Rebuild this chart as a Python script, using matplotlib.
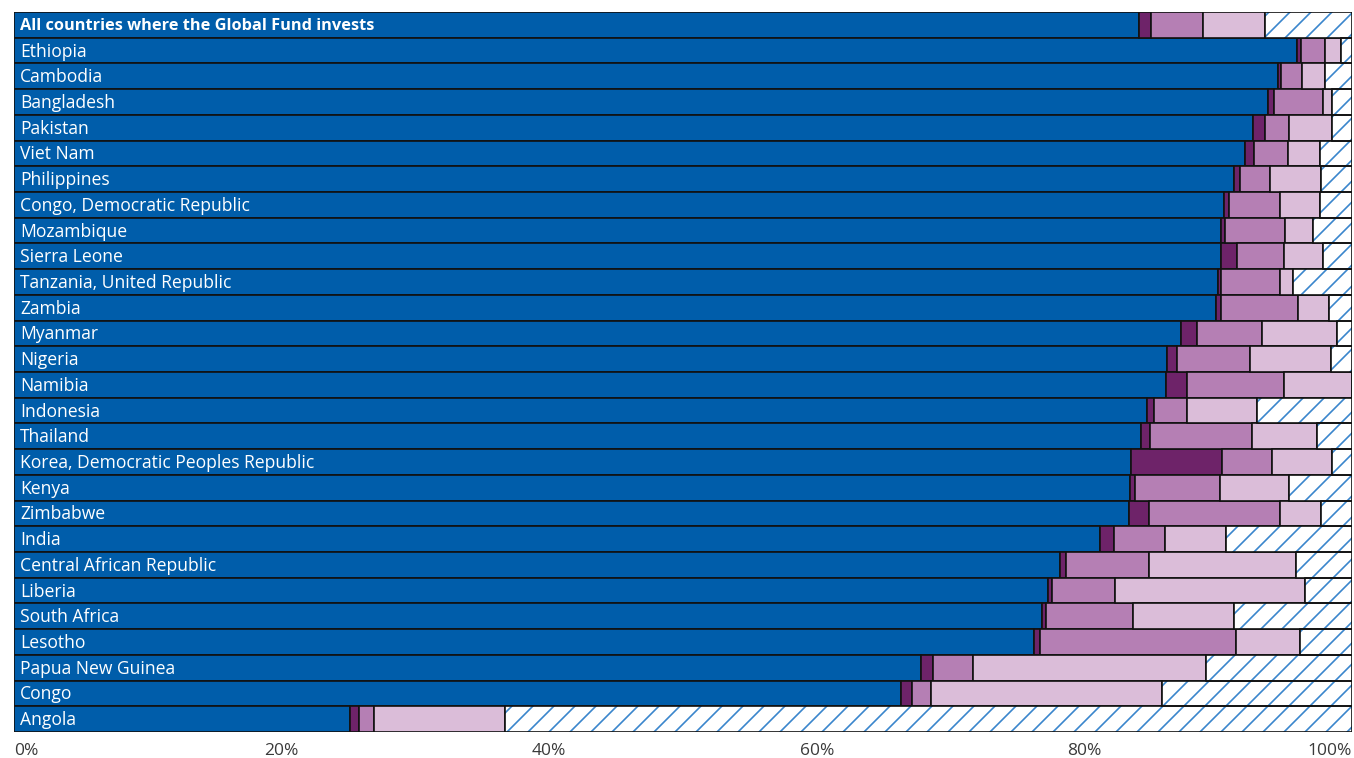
import matplotlib
matplotlib.use("Agg")
import matplotlib.pyplot as plt

countries = [
    "All countries where the Global Fund invests", "Ethiopia", "Cambodia", "Bangladesh",
    "Pakistan", "Viet Nam", "Philippines", "Congo, Democratic Republic", "Mozambique",
    "Sierra Leone", "Tanzania, United Republic", "Zambia", "Myanmar", "Nigeria", "Namibia",
    "Indonesia", "Thailand", "Korea, Democratic Peoples Republic", "Kenya", "Zimbabwe",
    "India", "Central African Republic", "Liberia", "South Africa", "Lesotho",
    "Papua New Guinea", "Congo", "Angola",
]
seg1 = [84.1, 95.9, 94.5, 93.7, 92.6, 92.0, 91.2, 90.4, 90.2, 90.2, 90.0, 89.8, 87.2, 86.2,
        86.1, 84.7, 84.2, 83.5, 83.4, 83.3, 81.2, 78.2, 77.3, 76.8, 76.2, 67.8, 66.3, 25.1]
seg2 = [0.9, 0.3, 0.2, 0.5, 0.9, 0.7, 0.4, 0.4, 0.3, 1.2, 0.2, 0.4, 1.2, 0.7,
        1.6, 0.5, 0.7, 6.8, 0.4, 1.5, 1.0, 0.4, 0.3, 0.3, 0.5, 0.9, 0.8, 0.7]
seg3 = [3.9, 1.8, 1.6, 3.6, 1.8, 2.5, 2.3, 3.8, 4.5, 3.5, 4.4, 5.8, 4.9, 5.5,
        7.2, 2.5, 7.6, 3.7, 6.3, 9.8, 3.8, 6.2, 4.7, 6.5, 14.6, 3.0, 1.4, 1.1]
seg4 = [4.6, 1.2, 1.7, 0.7, 3.2, 2.4, 3.8, 3.0, 2.1, 2.9, 1.0, 2.3, 5.6, 6.0,
        5.1, 5.2, 4.9, 4.5, 5.2, 3.1, 4.6, 11.0, 14.2, 7.6, 4.8, 17.4, 17.3, 9.8]
seg5 = [6.5, 0.8, 2.0, 1.5, 1.5, 2.4, 2.3, 2.4, 2.9, 2.2, 4.4, 1.7, 1.1, 1.6,
        0.0, 7.1, 2.6, 1.5, 4.7, 2.3, 9.4, 4.2, 3.5, 8.8, 3.9, 10.9, 14.2, 63.3]
xticks = [0, 20, 40, 60, 80, 100]
xticklabels = ["0%", "20%", "40%", "60%", "80%", "100%"]

colors = ["#005DAA", "#6E2369", "#B57FB4", "#DBBDD9"]
hatch_col = "#3A86CC"

DPI = 126
k = 100 / DPI  # keep pixel sizes as if at 100 dpi
plt.rcParams["hatch.linewidth"] = 1.2 * k

fig = plt.figure(figsize=(1354 / DPI, 758 / DPI), dpi=DPI)
ax = fig.add_axes([14 / 1354, 26 / 758, 1338 / 1354, 720 / 758])

y = list(range(len(countries)))
left = [0.0] * len(countries)
for vals, col in zip([seg1, seg2, seg3, seg4], colors):
    ax.barh(y, vals, left=left, height=1.0, color=col, edgecolor="#111111", linewidth=1.2 * k)
    left = [l + v for l, v in zip(left, vals)]
ax.barh(y, seg5, left=left, height=1.0, facecolor="white", edgecolor=hatch_col,
        hatch="//", linewidth=0)
ax.barh(y, seg5, left=left, height=1.0, facecolor="none", edgecolor="#111111",
        linewidth=1.2 * k)

for i, name in enumerate(countries):
    ax.text(0.45, i + 0.04, name, color="white", va="center", ha="left",
            fontsize=(11.8 if i == 0 else 12.6) * k, family="Open Sans",
            fontweight="bold" if i == 0 else "normal")

ax.set_xlim(0, 100)
ax.set_ylim(len(countries) - 0.5, -0.5)
ax.set_yticks([])
ax.set_xticks(xticks)
ax.set_xticklabels(xticklabels, fontsize=12.5 * k, family="Open Sans", color="#3a3a3a")
tl = ax.get_xticklabels()
tl[0].set_ha("left")
tl[-1].set_ha("right")
ax.tick_params(axis="x", length=0, pad=8 * k)
for s in ax.spines.values():
    s.set_visible(False)

fig.savefig("out.png", dpi=DPI)
